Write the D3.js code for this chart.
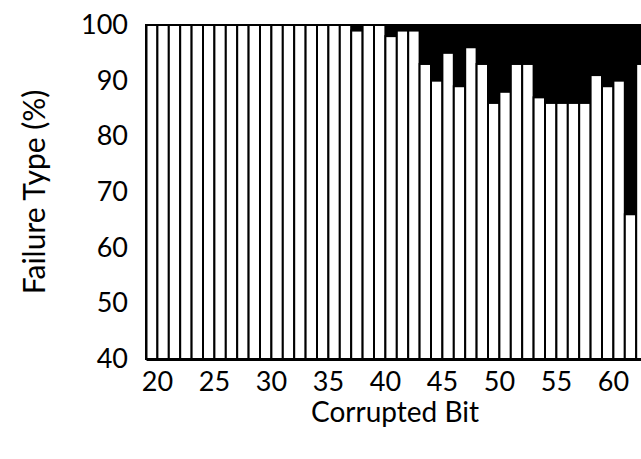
<!DOCTYPE html>
<html><head><meta charset="utf-8">
<script src="https://cdn.jsdelivr.net/npm/d3@7"></script>
<style>html,body{margin:0;padding:0;background:#fff;}svg{display:block;}</style>
</head><body>
<script>
const bits = d3.range(20, 64);
const normalPct = [100,100,100,100,100,100,100,100,100,100,
                   100,100,100,100,100,100,100,100,99,100,
                   100,98,99,99,93,90,95,89,96,93,
                   86,88,93,93,87,86,86,86,86,91,
                   89,90,66,93];
const yTicks = [40,50,60,70,80,90,100];
const xTicks = [20,25,30,35,40,45,50,55,60];

(function () {
const W = 641, H = 459;
const mLeft = 146, mTop = 25, mBottom = 359;
const font = "Lato, 'Open Sans', sans-serif";

const svg = d3.select("body").append("svg").attr("width", W).attr("height", H);

const x = d3.scaleBand().domain(bits).range([mLeft, mLeft + bits.length * 11.4]).padding(0);
const y = d3.scaleLinear().domain([40, 100]).range([mBottom, mTop]);

const g = svg.append("g");
g.selectAll("rect.other").data(bits).join("rect").attr("class", "other")
  .attr("x", d => x(d)).attr("width", x.bandwidth())
  .attr("y", y(100)).attr("height", (d, i) => y(normalPct[i]) - y(100))
  .attr("fill", "#000").attr("stroke", "#000").attr("stroke-width", 2);
g.selectAll("rect.norm").data(bits).join("rect").attr("class", "norm")
  .attr("x", d => x(d)).attr("width", x.bandwidth())
  .attr("y", (d, i) => y(normalPct[i])).attr("height", (d, i) => y(40) - y(normalPct[i]))
  .attr("fill", "#fff").attr("stroke", "#000").attr("stroke-width", 2);

const ya = svg.append("g").attr("transform", `translate(${mLeft},0)`)
  .call(d3.axisLeft(y).tickValues(yTicks).tickSize(0).tickPadding(18));
ya.select(".domain").attr("stroke", "#000").attr("stroke-width", 2);
ya.selectAll("text").attr("font-family", font).attr("font-size", 27).attr("fill", "#000");

const xa = svg.append("g").attr("transform", `translate(0,${mBottom})`)
  .call(d3.axisBottom(x).tickValues(xTicks).tickSize(0).tickPadding(13).tickFormat(d3.format("d")));
xa.select(".domain").attr("stroke", "#000").attr("stroke-width", 3);
xa.selectAll(".tick").attr("transform", d => `translate(${x(d) + x.bandwidth()},0)`);
xa.selectAll("text").attr("font-family", font).attr("font-size", 27).attr("fill", "#000");

svg.append("text").attr("x", 395).attr("y", 422).attr("text-anchor", "middle")
  .attr("font-family", font).attr("font-size", 28).text("Corrupted Bit");
svg.append("text").attr("transform", "translate(45,192) rotate(-90)").attr("text-anchor", "middle")
  .attr("font-family", font).attr("font-size", 30).text("Failure Type (%)");
})();
</script>
</body></html>
